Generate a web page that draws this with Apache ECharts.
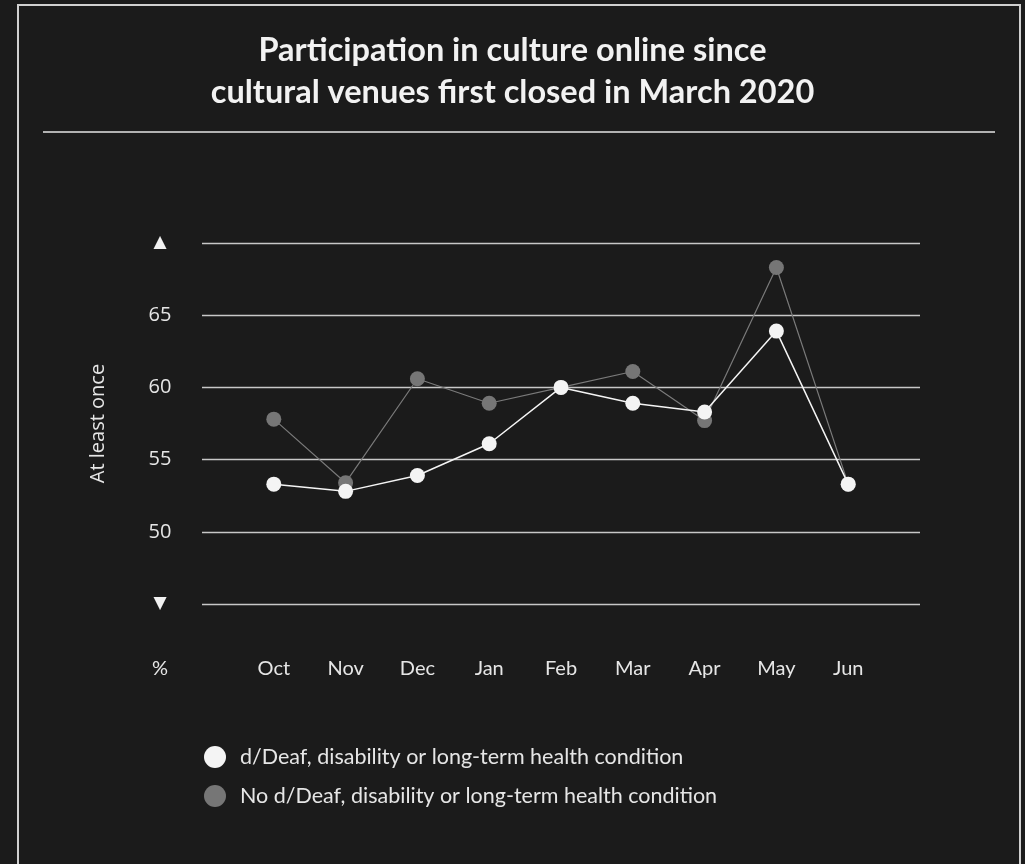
<!DOCTYPE html>
<html>
<head>
<meta charset="utf-8">
<script src="https://cdn.jsdelivr.net/npm/echarts@6/dist/echarts.min.js"></script>
<style>
html,body{margin:0;padding:0;background:#1b1b1b;}
#c{width:1025px;height:864px;}
</style>
</head>
<body>
<div id="c"></div>
<script>
var months = ['Oct','Nov','Dec','Jan','Feb','Mar','Apr','May','Jun'];
var disabled = [53.3, 52.8, 53.9, 56.1, 60.0, 58.9, 58.3, 63.9, 53.3];
var notDisabled = [57.8, 53.4, 60.6, 58.9, 60.0, 61.1, 57.7, 68.3, 53.3];
var yTicks = [45, 50, 55, 60, 65, 70];
var seriesNames = ['d/Deaf, disability or long-term health condition', 'No d/Deaf, disability or long-term health condition'];

var cats = [''].concat(months, ['']);
function pad(a){ return [null].concat(a, [null]); }

var chart = echarts.init(document.getElementById('c'));
var font = 'Lato, "Open Sans", sans-serif';
chart.setOption({
  backgroundColor: '#1b1b1b',
  animation: false,
  title: {
    text: 'Participation in culture online since\ncultural venues first closed in March 2020',
    left: 'center', top: 25,
    textStyle: { color: '#f2f2f2', fontSize: 32.5, fontWeight: 'bold', fontFamily: font, lineHeight: 42 }
  },
  graphic: [
    { type: 'rect', shape: { x: 18, y: 5, width: 1002, height: 900 }, style: { fill: 'none', stroke: '#d0d0d0', lineWidth: 2 } },
    { type: 'line', shape: { x1: 43, y1: 132, x2: 995, y2: 132 }, style: { stroke: '#e6e6e6', lineWidth: 1.5 } },
    { type: 'text', x: 160, y: 669, style: { text: '%', fill: '#e6e6e6', font: '20px ' + font, textAlign: 'center', textVerticalAlign: 'middle' } }
  ],
  legend: {
    orient: 'vertical', left: 199, top: 741,
    itemWidth: 22, itemHeight: 22, itemGap: 17,
    icon: 'circle',
    textStyle: { color: '#e6e6e6', fontSize: 21.5, fontFamily: font, padding: [0, 0, 0, 9] },
    data: seriesNames
  },
  grid: { left: 202, right: 105, top: 243, bottom: 260 },
  xAxis: {
    type: 'category', data: cats, boundaryGap: false,
    axisLine: { show: false }, axisTick: { show: false },
    axisLabel: { color: '#e6e6e6', fontSize: 20, fontFamily: font, margin: 55, interval: 0 }
  },
  yAxis: {
    type: 'value', min: yTicks[0], max: yTicks[yTicks.length - 1], interval: 5,
    name: 'At least once', nameLocation: 'middle', nameGap: 94,
    nameTextStyle: { color: '#e6e6e6', fontSize: 20, fontFamily: '"Open Sans", sans-serif' },
    axisLine: { show: false }, axisTick: { show: false },
    splitLine: { lineStyle: { color: '#c8c8c8', width: 1.3 } },
    axisLabel: {
      color: '#e6e6e6', fontSize: 20, fontFamily: '"Open Sans", sans-serif', margin: 42, align: 'center',
      formatter: function (v) {
        if (v === yTicks[yTicks.length - 1]) return '{t|▲}';
        if (v === yTicks[0]) return '{t|▼}';
        return String(v);
      },
      rich: { t: { fontSize: 17, color: '#f2f2f2', fontFamily: '"DejaVu Sans", sans-serif' } }
    }
  },
  series: [
    {
      name: seriesNames[1], type: 'line', data: pad(notDisabled),
      symbol: 'circle', symbolSize: 15,
      itemStyle: { color: '#767676' },
      lineStyle: { color: '#7a7a7a', width: 1.2 },
      z: 2
    },
    {
      name: seriesNames[0], type: 'line', data: pad(disabled),
      symbol: 'circle', symbolSize: 15,
      itemStyle: { color: '#f4f4f4' },
      lineStyle: { color: '#f4f4f4', width: 1.5 },
      z: 3
    }
  ]
});
</script>
</body>
</html>
